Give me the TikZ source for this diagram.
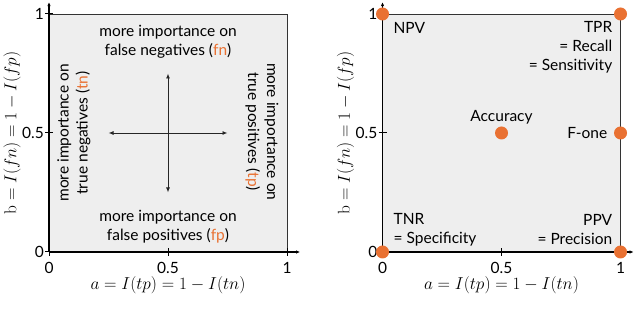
\documentclass[tikz,border=0pt]{standalone}
\usepackage[no-math]{fontspec}
\setmainfont{Lato}
\usepackage{amsmath}
\usetikzlibrary{arrows.meta,positioning,calc}
\definecolor{naranja}{HTML}{E97132}
\definecolor{fondo}{HTML}{EEEEEE}
\tikzset{marco/.style={draw=black!80, line width=0.8pt, fill=fondo}}
\tikzset{eje/.style={-{Latex[length=4pt,width=3.5pt]}, line width=1.1pt}}
\tikzset{flecha/.style={{Latex[length=5pt,width=4pt]}-{Latex[length=5pt,width=4pt]}, line width=0.9pt, color=black!85}}
\tikzset{punto/.style={circle, fill=naranja, minimum size=13pt, inner sep=0pt}}
\tikzset{texto/.style={align=center, font=\fontsize{15.5}{19}\selectfont, inner sep=0pt}}
\tikzset{etiq/.style={font=\fontsize{15.5}{19}\selectfont, inner sep=0pt}}
\tikzset{titulo/.style={font=\fontsize{16.5}{19}\selectfont, inner sep=0pt}}
\newcommand{\nar}[1]{\textcolor{naranja}{#1}}

\begin{document}
\begin{tikzpicture}[x=1pt, y=1pt]
  \useasboundingbox (0,0) rectangle (640,318);

  % Marcos, ejes y marcas comunes a los dos paneles
  \foreach \px/\pn in {49/izq, 382.5/der} {
    \begin{scope}[shift={(\px pt,66pt)}, x=238pt, y=238pt]
      \filldraw[marco] (0,0) rectangle (1,1);
      \coordinate (o-\pn) at (0,0);
      \coordinate (xfin-\pn) at (1.055,0);
      \coordinate (yfin-\pn) at (0,1.05);
      \draw[eje] (o-\pn) -- (xfin-\pn);
      \draw[eje] (o-\pn) -- (yfin-\pn);
      \foreach \t in {0,0.5,1} {
        \draw[line width=1pt] (\t,0) ++(0,-4pt) -- ++(0,8pt);
        \draw[line width=1pt] (0,\t) ++(-4pt,0) -- ++(8pt,0);
        \node[etiq, anchor=east] at ($(0,\t)+(-5pt,0)$) {\t};
        \node[etiq, anchor=north] at ($(\t,0)+(0,-10pt)$) {\t};
      }
      \node[titulo] (ejex-\pn) at ($(0.5,0)+(0,-33pt)$) {$a = I(tp) = 1 - I(tn)$};
      \node[titulo, rotate=90] (ejey-\pn) at ($(0,0.5)+(-37pt,0)$) {$\mathrm{b} = I(fn) = 1 - I(fp)$};
    \end{scope}
  }

  % Panel izquierdo: direcciones de importancia
  \begin{scope}[shift={(49pt,66pt)}, x=238pt, y=238pt]
    \node[texto] (fn) at (0.5,0.884) {more importance on\\false negatives (\nar{fn})};
    \node[texto] (fp) at (0.5,0.107) {more importance on\\false positives (\nar{fp})};
    \node[texto, rotate=90] (tn) at (0.105,0.5) {more importance on\\true negatives (\nar{tn})};
    \node[texto, rotate=-90] (tp) at (0.895,0.505) {more importance on\\true positives (\nar{tp})};
    \coordinate (izq) at (0.25,0.5);
    \coordinate (der) at (0.75,0.5);
    \coordinate (arr) at (0.5,0.75);
    \coordinate (aba) at (0.5,0.25);
    \draw[flecha] (izq) -- (der);
    \draw[flecha] (aba) -- (arr);
  \end{scope}

  % Panel derecho: puntajes en el cuadrado
  \begin{scope}[shift={(382.5pt,66pt)}, x=238pt, y=238pt]
    \node[punto] (pnpv) at (0,1) {};
    \node[punto] (ptpr) at (1,1) {};
    \node[punto] (ptnr) at (0,0) {};
    \node[punto] (pppv) at (1,0) {};
    \node[punto] (pacc) at (0.5,0.5) {};
    \node[punto] (pf1) at (1,0.5) {};
    \node[etiq, anchor=west] (npv) at (0.046,0.941) {NPV};
    \node[texto, align=right, anchor=east] (tpr) at (0.966,0.859) {TPR\\= Recall\\= Sensitivity};
    \node[etiq] (acc) at (0.5,0.567) {Accuracy};
    \node[etiq, anchor=east] (f1) at (0.945,0.5) {F-one};
    \node[texto, align=left, anchor=west] (tnr) at (0.046,0.0945) {TNR\\= Specificity};
    \node[texto, align=right, anchor=east] (ppv) at (0.966,0.0945) {PPV\\= Precision};
  \end{scope}
\end{tikzpicture}
\end{document}
